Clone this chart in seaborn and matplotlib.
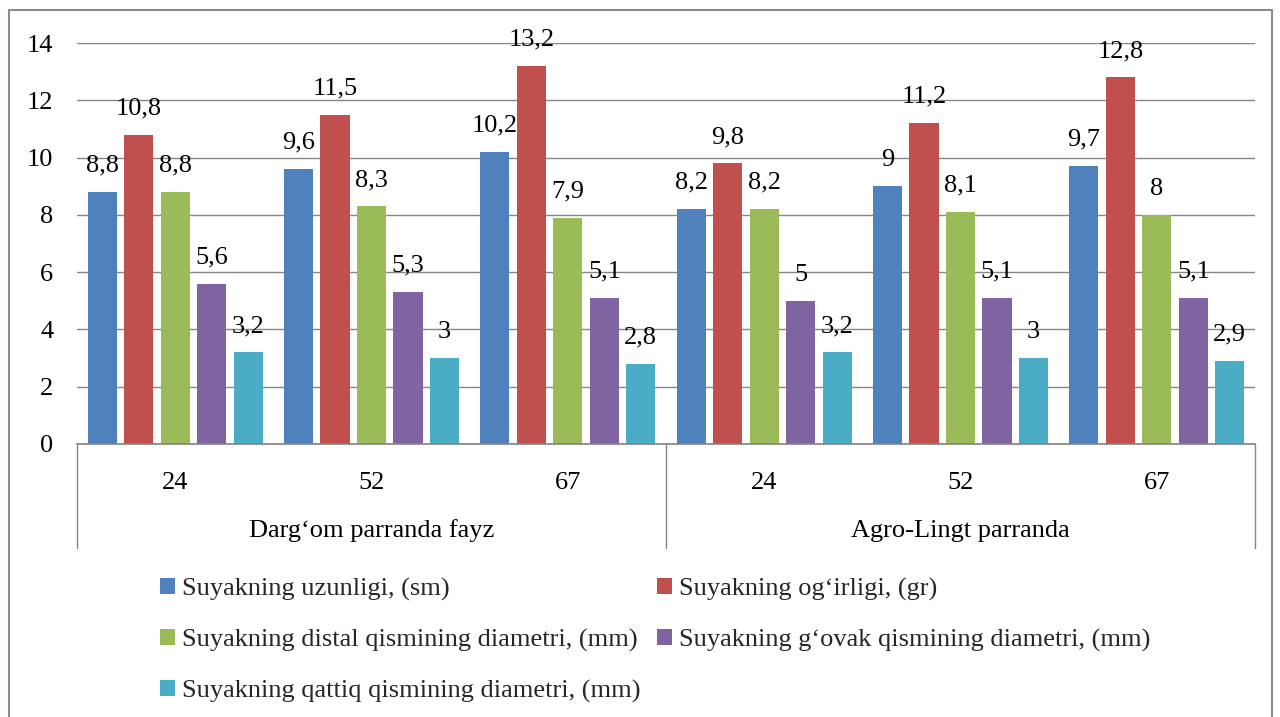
import numpy as np
import pandas as pd
import matplotlib
matplotlib.use("Agg")
import matplotlib.pyplot as plt
import matplotlib.transforms as mtransforms
from matplotlib.patches import Patch, Rectangle
import seaborn as sns

# ---- data ----
groups = ["Darg\u2018om parranda fayz", "Agro-Lingt parranda"]
ages = ["24", "52", "67"]
series = [
    "Suyakning uzunligi, (sm)",
    "Suyakning og\u2018irligi, (gr)",
    "Suyakning distal qismining diametri, (mm)",
    "Suyakning g\u2018ovak qismining diametri, (mm)",
    "Suyakning qattiq qismining diametri, (mm)",
]
uzunligi = [8.8, 9.6, 10.2, 8.2, 9.0, 9.7]
ogirligi = [10.8, 11.5, 13.2, 9.8, 11.2, 12.8]
distal = [8.8, 8.3, 7.9, 8.2, 8.1, 8.0]
govak = [5.6, 5.3, 5.1, 5.0, 5.1, 5.1]
qattiq = [3.2, 3.0, 2.8, 3.2, 3.0, 2.9]
colors = ["#4F81BD", "#C0504D", "#9BBB59", "#8064A2", "#4BACC6"]

cats = [f"{g}|{a}" for g in groups for a in ages]
rows = []
for s, vals in zip(series, [uzunligi, ogirligi, distal, govak, qattiq]):
    for c, v in zip(cats, vals):
        rows.append({"cat": c, "series": s, "value": v})
df = pd.DataFrame(rows)

# ---- plot ----
sns.set_theme(style="white")
plt.rcParams["font.family"] = ["Liberation Serif", "DejaVu Serif"]
FS = 19

fig = plt.figure(figsize=(12.8, 7.17), dpi=100)
ax = fig.add_axes([77 / 1280, 1 - 444 / 717, (1255 - 77) / 1280, 401 / 717])

sns.barplot(data=df, x="cat", y="value", hue="series", order=cats, hue_order=series,
            palette=colors, saturation=1, width=0.93, gap=0.2, errorbar=None,
            linewidth=0, legend=False, ax=ax)

for cont in ax.containers:
    labels = [f"{v:g}".replace(".", ",") for v in cont.datavalues]
    ax.bar_label(cont, labels=labels, padding=11, fontsize=FS, color="black")

ax.set_xlim(-0.5, 5.5)
ax.set_ylim(0, 14)
ax.set_yticks(np.arange(0, 15, 2))
ax.yaxis.grid(True, color="#868686", linewidth=1)
ax.set_axisbelow(True)
for side in ["left", "right", "top"]:
    ax.spines[side].set_visible(False)
ax.spines["bottom"].set_color("#868686")
ax.tick_params(axis="y", length=0, pad=17, labelsize=FS, labelcolor="black")
ax.tick_params(axis="x", length=0, pad=20, labelsize=FS, labelcolor="black")
ax.set_xticks(range(len(cats)))
ax.set_xticklabels(ages * len(groups))
ax.set_xlabel("")
ax.set_ylabel("")

# group labels and separators of the two-level category axis
trans = mtransforms.blended_transform_factory(ax.transData, ax.transAxes)
sep_bottom = -(548 - 444) / 401
for x in [-0.5, 2.5, 5.5]:
    ax.plot([x, x], [0, sep_bottom], transform=trans, color="#868686",
            linewidth=1, clip_on=False)
for i, g in enumerate(groups):
    ax.text(i * 3 + 1, -(531 - 444) / 401, g, transform=trans, ha="center",
            va="center", fontsize=FS, color="black")

# legend in two columns, filled row by row as in the original
handles = [Patch(facecolor=c, edgecolor="none") for c in colors]
leg_kw = dict(loc="upper left", frameon=False, fontsize=FS, handlelength=0.55,
              handleheight=0.55, handletextpad=0.3, labelspacing=1.05,
              borderpad=0, borderaxespad=0)
fig.legend([handles[0], handles[2], handles[4]], [series[0], series[2], series[4]],
           bbox_to_anchor=(160 / 1280, 1 - 578 / 717), **leg_kw)
fig.legend([handles[1], handles[3]], [series[1], series[3]],
           bbox_to_anchor=(657 / 1280, 1 - 578 / 717), **leg_kw)

# outer chart border
fig.patches.append(Rectangle((9 / 1280, -0.02), (1272 - 9) / 1280, 1.02 - 10 / 717,
                             transform=fig.transFigure, fill=False,
                             edgecolor="#8c8c8c", linewidth=1.5))

fig.savefig("out.png", dpi=100)
